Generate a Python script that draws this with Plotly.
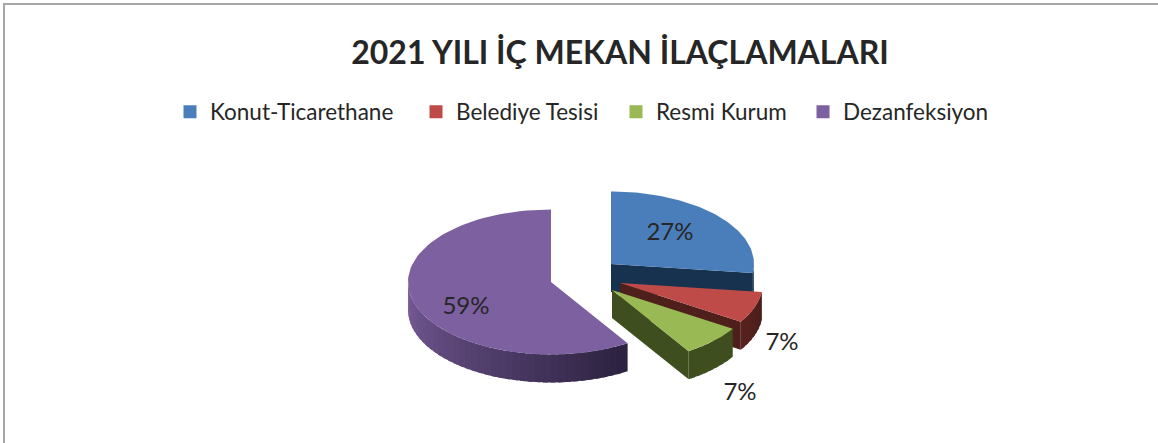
import numpy as np
import plotly.graph_objects as go

categories = ["Konut-Ticarethane", "Belediye Tesisi", "Resmi Kurum", "Dezanfeksiyon"]
values = [27, 7, 7, 59]
title_text = "2021 YILI İÇ MEKAN İLAÇLAMALARI"

W, H = 1158, 443
FONT = "Lato"
TEXT = "#262626"
top_colors = ["#4a7ebb", "#be4b48", "#98b954", "#7d60a0"]
side_light = ["#17324f", "#5a211e", "#3f4e1f", "#7a5e9c"]
side_dark = ["#17324f", "#47201c", "#3f4e1f", "#2c2240"]
cut_colors = ["#17324f", "#4f1f1c", "#3f4e1f", "#2c2240"]
centers = [(611, 264), (620, 283), (612, 290), (551, 282)]
label_pos = [(670, 234), (782, 344), (740, 394), (466, 308)]
legend_left = [170, 416, 616, 803]
RX, RY, DEPTH = 143, 72.5, 28


def pt(c, a, dz=0):
    r = np.radians(a)
    return c[0] + RX * np.sin(r), c[1] - RY * np.cos(r) + dz


def mix(c1, c2, t):
    a = [int(c1[i:i + 2], 16) for i in (1, 3, 5)]
    b = [int(c2[i:i + 2], 16) for i in (1, 3, 5)]
    return "rgb(%d,%d,%d)" % tuple(round(a[i] + (b[i] - a[i]) * t) for i in range(3))


fig = go.Figure()


def poly(xs, ys, color):
    fig.add_trace(go.Scatter(x=list(xs), y=list(ys), mode="lines", fill="toself",
                             fillcolor=color, line=dict(color=color, width=0),
                             hoverinfo="skip", showlegend=False))


edges = np.cumsum([0] + values) / sum(values) * 360
# back-to-front drawing order: the purple slice first, then clockwise round the chart
for i in [3, 0, 1, 2]:
    c = centers[i]
    a0, a1 = edges[i], edges[i + 1]
    # outer rim, visible on the lower half of the ellipse
    r0, r1 = max(a0, 90), min(a1, 270)
    if r1 > r0:
        n = max(2, int((r1 - r0) / 3))
        steps = np.linspace(r0, r1, n + 1)
        # painted from the far end, each strip running under the next to hide the seams
        for k in range(n - 1, -1, -1):
            seg = np.linspace(steps[k], min(steps[k + 1] + 2, r1), 5)
            top = [pt(c, a) for a in seg]
            low = [pt(c, a, DEPTH) for a in seg[::-1]]
            t = 1 - (k + 0.5) / n
            poly([p[0] for p in top + low], [p[1] for p in top + low],
                 mix(side_light[i], side_dark[i], t))
    # cut face at the end of the slice when it looks toward the viewer
    if a1 < 180:
        e = pt(c, a1)
        e2 = pt(c, a1, DEPTH)
        poly([c[0], e[0], e2[0], c[0]], [c[1], e[1], e2[1], c[1] + DEPTH], cut_colors[i])
    # top face
    arc = [pt(c, a) for a in np.linspace(a0, a1, 90)]
    poly([c[0]] + [p[0] for p in arc], [c[1]] + [p[1] for p in arc], top_colors[i])

# percentage labels
fig.add_trace(go.Scatter(x=[p[0] for p in label_pos], y=[p[1] for p in label_pos],
                         mode="text", text=[f"{v}%" for v in values],
                         textfont=dict(family=FONT, size=24, color=TEXT),
                         textposition="middle center", hoverinfo="skip", showlegend=False))

# legend entries, one legend box each so that the spacing follows the picture
legends = {}
for i, name in enumerate(categories):
    key = "legend" if i == 0 else f"legend{i + 1}"
    fig.add_trace(go.Scatter(x=[None], y=[None], mode="markers", name=name, legend=key,
                             marker=dict(symbol="square", size=13, color=top_colors[i])))
    legends[key] = dict(orientation="h", x=legend_left[i] / W, xanchor="left",
                        y=1 - 112 / H, yanchor="middle", bgcolor="rgba(0,0,0,0)",
                        font=dict(family=FONT, size=22.5, color=TEXT))

fig.update_layout(
    width=W, height=H, margin=dict(l=0, r=0, t=0, b=0),
    paper_bgcolor="white", plot_bgcolor="white",
    title=dict(text=f"<b>{title_text}</b>", x=620 / W, xanchor="center", y=1 - 53 / H,
               yanchor="middle", font=dict(family=FONT, size=32, color=TEXT)),
    xaxis=dict(range=[0, W], visible=False, fixedrange=True),
    yaxis=dict(range=[H, 0], visible=False, fixedrange=True),
    shapes=[
        dict(type="line", xref="x", yref="y", x0=3, x1=W, y0=4, y1=4, line=dict(color="#a6a6a6", width=2)),
        dict(type="line", xref="x", yref="y", x0=4, x1=4, y0=3, y1=H, line=dict(color="#a6a6a6", width=2)),
    ],
    **legends,
)
fig.write_html("out.html", config={"displayModeBar": False},
               post_script="document.body.style.margin='0';")
